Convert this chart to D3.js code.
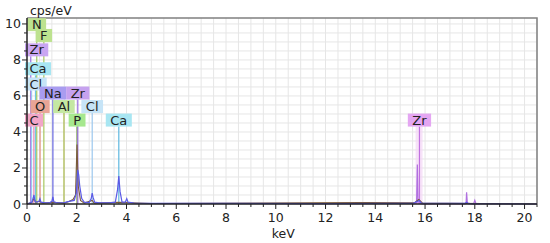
<!DOCTYPE html>
<html><head><meta charset="utf-8">
<script src="https://cdn.jsdelivr.net/npm/d3@7"></script>
<style>body{margin:0;background:#fff}svg{display:block}text{font-family:"DejaVu Sans",Verdana,sans-serif}</style>
</head><body><svg id="c" width="550" height="243"></svg>
<script>
// X-ray lines (element markers)
const markerNames   = ["Zr","Cl","C","Ca","N","O","F","Na","Al","P","Zr","Cl","Ca","Zr"];
const markerEnergy  = [0.151,0.183,0.277,0.341,0.392,0.525,0.677,1.041,1.486,2.013,2.042,2.621,3.690,15.775];
const markerHeight  = [8.2,6.3,4.3,7.15,9.6,5.05,9.0,5.8,5.05,4.3,5.8,5.05,4.3,4.3];
const markerFill    = ["#c9a6f2","#c6e4f7","#f2a6c8","#a8e6f2","#bde28f","#e8a496","#bde28f","#a99cf0","#c4e8a2","#a6e88e","#c6a2ef","#c6e4f7","#a8e6f2","#e4a6f2"];
const markerLine    = ["#9a6ee0","#9cc8ee","#e884b4","#70c8e0","#a0c860","#e0907a","#a8c860","#6868e0","#a8b848","#6a9a30","#9a6ee0","#9cc8ee","#60b8e0","#c070e0"];
// spectrum 1 (blue)
const s1E = [0,0.1,0.2,0.25,0.28,0.32,0.4,0.48,0.52,0.56,0.7,0.9,1.0,1.04,1.08,1.2,1.5,1.7,1.9,1.98,2.04,2.08,2.12,2.2,2.3,2.5,2.58,2.62,2.66,2.72,2.9,3.3,3.55,3.64,3.69,3.74,3.82,3.95,4.01,4.06,4.3,5,8,12,15.5,15.7,15.77,15.85,17.6,17.67,17.75,20.5];
const s1Y = [0,0.05,0.1,0.35,0.5,0.15,0.1,0.15,0.3,0.1,0.08,0.06,0.15,0.4,0.12,0.07,0.08,0.15,0.2,0.6,1.9,1.6,1.0,0.3,0.1,0.08,0.3,0.6,0.35,0.1,0.06,0.06,0.1,0.8,1.55,0.7,0.1,0.1,0.3,0.1,0.05,0.04,0.03,0.02,0.03,0.15,0.2,0.05,0.03,0.1,0.02,0];
// spectrum 2 (brown)
const s2E = [0,0.2,0.28,0.35,0.52,0.6,1.04,1.5,1.7,1.85,1.95,2.01,2.06,2.15,2.3,2.62,2.7,3.69,5,15.6,15.75,15.9,20.5];
const s2Y = [0,0.1,0.3,0.1,0.15,0.05,0.1,0.05,0.15,0.25,0.5,3.3,1.0,0.2,0.05,0.2,0.05,0.1,0.03,0.1,0.25,0.05,0];
// spectrum 3 (violet, Zr K lines)
const s3E = [15.5,15.66,15.69,15.72,15.9,17.6,17.65,17.67,17.7,17.95,18.0,18.05,18.2];
const s3Y = [0,0.05,2.2,0.05,0,0,0.05,0.65,0.05,0,0.2,0,0];
const xTicks = [0,2,4,6,8,10,12,14,16,18,20];
const yTicks = [0,2,4,6,8,10];

const W=550,H=243,m={l:27,r:13,t:18,b:39};
const svg=d3.select("#c");
const x=d3.scaleLinear().domain([0,20.5]).range([m.l,W-m.r]);
const y=d3.scaleLinear().domain([0,10.33]).range([H-m.b,m.t]);

// grid
const g=svg.append("g");
g.selectAll(".vg").data(d3.range(0.5,20.51,0.5)).join("line")
 .attr("x1",d=>x(d)).attr("x2",d=>x(d)).attr("y1",y(0)).attr("y2",y(10.33))
 .attr("stroke","#e6e6e6").attr("stroke-width",1);
g.selectAll(".hg").data(d3.range(0.5,10.33,0.5)).join("line")
 .attr("y1",d=>y(d)).attr("y2",d=>y(d)).attr("x1",x(0)).attr("x2",x(20.5))
 .attr("stroke","#e6e6e6").attr("stroke-width",1);
// frame top/right
svg.append("path").attr("d",`M${x(0)},${y(10.33)}H${x(20.5)}V${y(0)}`).attr("fill","none").attr("stroke","#808080").attr("stroke-width",1.5);

// faint highlight behind the Zr K line
svg.append("rect").attr("x",x(15.62)).attr("width",x(15.9)-x(15.62)).attr("y",y(4.3)).attr("height",y(0)-y(4.3)).attr("fill","#f3d6f5").attr("opacity",0.7);

// marker lines
svg.selectAll(".ml").data(markerEnergy).join("line")
 .attr("x1",d=>x(d)).attr("x2",d=>x(d)).attr("y1",y(0)).attr("y2",(d,i)=>y(markerHeight[i]))
 .attr("stroke",(d,i)=>markerLine[i]).attr("stroke-width",1.2);

// spectra
const line=d3.line().x(d=>x(d[0])).y(d=>y(d[1]));
svg.append("path").datum(s3E.map((e,i)=>[e,s3Y[i]])).attr("d",line).attr("fill","none").attr("stroke","#b070e0").attr("stroke-width",1.2);
svg.append("path").datum(s2E.map((e,i)=>[e,s2Y[i]])).attr("d",line).attr("fill","none").attr("stroke","#7a5a3a").attr("stroke-width",1.1);
svg.append("path").datum(s1E.map((e,i)=>[e,s1Y[i]])).attr("d",line).attr("fill","none").attr("stroke","#5a5ae6").attr("stroke-width",1.2);

// labels
const lab=svg.append("g");
markerNames.forEach((n,i)=>{
  const gg=lab.append("g");
  const r=gg.append("rect");
  const t=gg.append("text").text(n).attr("font-size",13).attr("fill","#222").attr("text-anchor","middle");
  const tw=t.node().getComputedTextLength();
  const bw=tw+9,bh=13;
  let cx=x(markerEnergy[i]);
  const left=Math.max(cx-bw/2,x(0)-2);
  cx=left+bw/2;
  const by=y(markerHeight[i])-bh;
  r.attr("x",left).attr("y",by).attr("width",bw).attr("height",bh).attr("fill",markerFill[i]);
  t.attr("x",cx).attr("y",by+bh-2);
});

// axes
const xa=svg.append("g").attr("transform",`translate(0,${y(0)})`);
xa.append("line").attr("x1",x(0)).attr("x2",x(20.5)).attr("stroke","#222").attr("stroke-width",1.5);
xa.selectAll(".mt").data(d3.range(0,20.51,0.5)).join("line")
 .attr("x1",d=>x(d)).attr("x2",d=>x(d)).attr("y1",0).attr("y2",d=>d%2===0?5:3).attr("stroke","#222");
xa.selectAll("text").data(xTicks).join("text").attr("x",d=>x(d)).attr("y",18).attr("text-anchor","middle").attr("font-size",12.5).attr("fill","#222").text(d=>d);
const ya=svg.append("g").attr("transform",`translate(${x(0)},0)`);
ya.append("line").attr("y1",y(0)).attr("y2",y(10.33)).attr("stroke","#222").attr("stroke-width",1.5);
ya.selectAll(".mt").data(d3.range(0,10.33,0.5)).join("line")
 .attr("y1",d=>y(d)).attr("y2",d=>y(d)).attr("x1",0).attr("x2",d=>d%2===0?-5:-3).attr("stroke","#222");
ya.selectAll("text").data(yTicks).join("text").attr("x",-6).attr("y",d=>y(d)+4.5).attr("text-anchor","end").attr("font-size",12.5).attr("fill","#222").text(d=>d);
svg.append("text").attr("x",30).attr("y",15).attr("font-size",12.5).attr("fill","#222").text("cps/eV");
svg.append("text").attr("x",x(10.3)).attr("y",238).attr("text-anchor","middle").attr("font-size",12.5).attr("fill","#222").text("keV");
</script></body></html>
